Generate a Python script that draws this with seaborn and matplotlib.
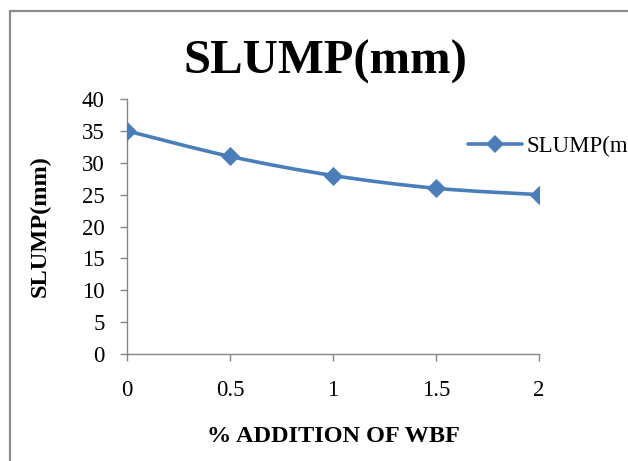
import numpy as np
import pandas as pd
import seaborn as sns
import matplotlib
matplotlib.use("Agg")
import matplotlib.pyplot as plt
from matplotlib.path import Path
from matplotlib.patches import PathPatch, Rectangle
from matplotlib.lines import Line2D

# Slump test results against fibre addition
wbf_percent = [0, 0.5, 1, 1.5, 2]
slump_mm = [35, 31, 28, 26, 25]
y_ticks = [0, 5, 10, 15, 20, 25, 30, 35, 40]
x_ticks = [0, 0.5, 1, 1.5, 2]
series_name = "SLUMP(mm)"

sns.set_theme(style="white")
plt.rcParams["font.family"] = ["Liberation Serif", "DejaVu Serif"]
plt.rcParams["text.color"] = "black"
plt.rcParams["axes.labelcolor"] = "black"

BLUE = "#4A7EBB"
GREY = "#868686"

df = pd.DataFrame({"wbf": wbf_percent, "slump": slump_mm})

fig = plt.figure(figsize=(6.28, 4.61), dpi=100)
ax = fig.add_axes([0.2022, 0.2321, 0.6561, 0.5531])

# smooth curve through the points (cubic Bezier segments, Catmull-Rom style)
xs = np.asarray(wbf_percent, float)
ys = np.asarray(slump_mm, float)
verts = [(xs[0], ys[0])]
codes = [Path.MOVETO]
n = len(xs)
for i in range(n - 1):
    p0 = (xs[max(i - 1, 0)], ys[max(i - 1, 0)])
    p1 = (xs[i], ys[i])
    p2 = (xs[i + 1], ys[i + 1])
    p3 = (xs[min(i + 2, n - 1)], ys[min(i + 2, n - 1)])
    t = 1 / 6
    c1 = (p1[0] + (p2[0] - p0[0]) * t, p1[1] + (p2[1] - p0[1]) * t)
    c2 = (p2[0] - (p3[0] - p1[0]) * t, p2[1] - (p3[1] - p1[1]) * t)
    verts += [c1, c2, p2]
    codes += [Path.CURVE4] * 3
ax.add_patch(PathPatch(Path(verts, codes), fill=False, edgecolor=BLUE,
                       lw=2.6, capstyle="round", joinstyle="round", zorder=3))

sns.scatterplot(data=df, x="wbf", y="slump", marker="D", s=95, color=BLUE,
                edgecolor=BLUE, linewidth=0, ax=ax, zorder=4, legend=False)

ax.set_xlim(0, 2)
ax.set_ylim(0, 40)
ax.set_xticks(x_ticks)
ax.set_xticklabels([f"{v:g}" for v in x_ticks])
ax.set_yticks(y_ticks)
ax.set_yticklabels([str(v) for v in y_ticks])
ax.margins(0)

for side in ["top", "right"]:
    ax.spines[side].set_visible(False)
for side in ["left", "bottom"]:
    ax.spines[side].set_color(GREY)
    ax.spines[side].set_linewidth(1.0)

ax.tick_params(axis="both", which="major", direction="out", length=5,
               width=1.0, color=GREY, labelsize=16.5, labelcolor="black")
ax.tick_params(axis="y", pad=11, left=True)
ax.tick_params(axis="x", pad=14, bottom=True)

ax.set_xlabel("% ADDITION OF WBF", fontsize=17.5, fontweight="bold")
ax.set_ylabel("SLUMP(mm)", fontsize=17.5, fontweight="bold")
ax.xaxis.set_label_coords(0.5, -0.283)
ax.yaxis.set_label_coords(-0.185, 0.5)

fig.text(0.518, 0.866, "SLUMP(mm)", ha="center", va="center",
         fontsize=35, fontweight="bold", color="black")

# legend entry placed to the right of the plot
handle = Line2D([], [], color=BLUE, lw=2.6, marker="D", markersize=9,
                markeredgewidth=0)
fig.legend([handle], [series_name], loc="center left",
           bbox_to_anchor=(0.745, 0.683), frameon=False, fontsize=16.5,
           handlelength=2.35, handletextpad=0.2, borderpad=0,
           borderaxespad=0, labelcolor="black")

# outer chart border
fig.patches.append(Rectangle((9.5 / 628, -0.1), 1.2, 0.1 + (461 - 11.5) / 461,
                             transform=fig.transFigure, fill=False,
                             edgecolor="#8C8C8C", lw=1.6))

fig.savefig("out.png", dpi=100)
